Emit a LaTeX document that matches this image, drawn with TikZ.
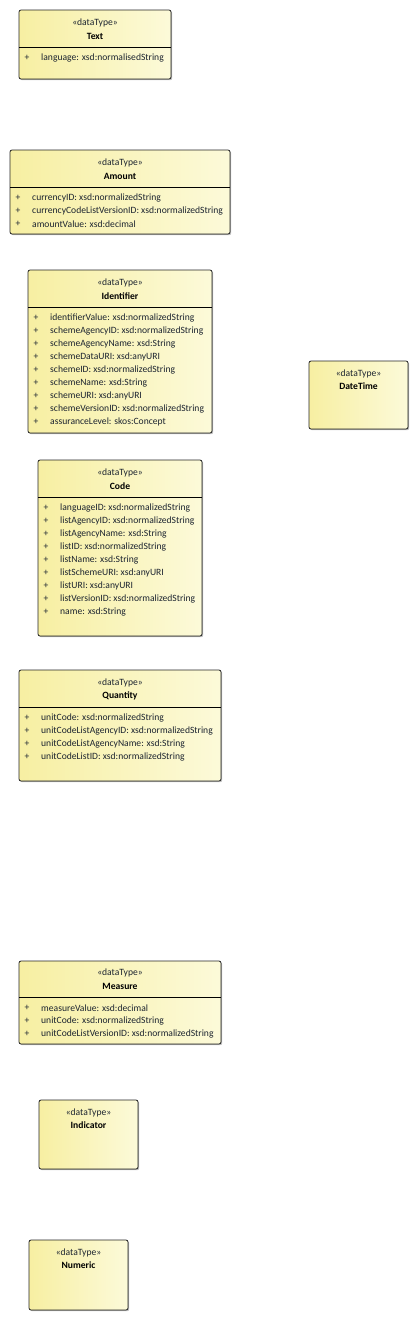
\documentclass[tikz,border=0pt]{standalone}
\usepackage{fontspec}
\setmainfont{Carlito}
\usetikzlibrary{shadows}
\definecolor{dtleft}{HTML}{F7EFA2}
\definecolor{dtright}{HTML}{FCFAD9}
\definecolor{dttext}{HTML}{1C2430}
\tikzset{
  dtbox/.style={draw=black!85, line width=0.8pt, rounded corners=2pt, left color=dtleft, right color=dtright,
    drop shadow={shadow xshift=1.2pt, shadow yshift=-1.2pt, opacity=0.25, fill=black}},
  stereo/.style={inner sep=0pt, text=dttext, font=\fontsize{9.6}{11}\selectfont},
  dtname/.style={inner sep=0pt, text=black, font=\fontsize{9.6}{11}\selectfont\bfseries},
  plus/.style={inner sep=0pt, text=dttext, font=\fontsize{9.6}{11}\selectfont},
  attr/.style={inner sep=0pt, anchor=west, text=dttext, font=\fontsize{9.6}{11}\selectfont}
}
\begin{document}
\begin{tikzpicture}[x=1pt,y=-1pt]
\useasboundingbox (0,0) rectangle (419,1320);
% Text
\filldraw[dtbox] (19,10) rectangle (171,79);
\draw[line width=0.8pt] (19,47) -- (171,47);
\node[stereo] (text-st) at (95,23) {«dataType»};
\node[dtname] (text-nm) at (95,36) {Text};
\node[plus] (text-p1) at (27,58) {+}; \node[attr] (text-a1) at (41,58) {language: xsd:normalisedString};
% Amount
\filldraw[dtbox] (10,150) rectangle (230,234);
\draw[line width=0.8pt] (10,187) -- (230,187);
\node[stereo] (amount-st) at (120,163) {«dataType»};
\node[dtname] (amount-nm) at (120,176) {Amount};
\node[plus] (amount-p1) at (18,198) {+}; \node[attr] (amount-a1) at (32,198) {currencyID: xsd:normalizedString};
\node[plus] (amount-p2) at (18,211) {+}; \node[attr] (amount-a2) at (32,211) {currencyCodeListVersionID: xsd:normalizedString};
\node[plus] (amount-p3) at (18,224) {+}; \node[attr] (amount-a3) at (32,224) {amountValue: xsd:decimal};
% Identifier
\filldraw[dtbox] (28,270) rectangle (212,433);
\draw[line width=0.8pt] (28,307) -- (212,307);
\node[stereo] (ident-st) at (120,283) {«dataType»};
\node[dtname] (ident-nm) at (120,296) {Identifier};
\node[plus] (ident-p1) at (36,318) {+}; \node[attr] (ident-a1) at (50,318) {identifierValue: xsd:normalizedString};
\node[plus] (ident-p2) at (36,331) {+}; \node[attr] (ident-a2) at (50,331) {schemeAgencyID: xsd:normalizedString};
\node[plus] (ident-p3) at (36,344) {+}; \node[attr] (ident-a3) at (50,344) {schemeAgencyName: xsd:String};
\node[plus] (ident-p4) at (36,357) {+}; \node[attr] (ident-a4) at (50,357) {schemeDataURI: xsd:anyURI};
\node[plus] (ident-p5) at (36,370) {+}; \node[attr] (ident-a5) at (50,370) {schemeID: xsd:normalizedString};
\node[plus] (ident-p6) at (36,383) {+}; \node[attr] (ident-a6) at (50,383) {schemeName: xsd:String};
\node[plus] (ident-p7) at (36,396) {+}; \node[attr] (ident-a7) at (50,396) {schemeURI: xsd:anyURI};
\node[plus] (ident-p8) at (36,409) {+}; \node[attr] (ident-a8) at (50,409) {schemeVersionID: xsd:normalizedString};
\node[plus] (ident-p9) at (36,422) {+}; \node[attr] (ident-a9) at (50,422) {assuranceLevel: skos:Concept};
% DateTime
\filldraw[dtbox] (309,361) rectangle (408,429);
\node[stereo] (date-st) at (358.5,374) {«dataType»};
\node[dtname] (date-nm) at (358.5,386) {DateTime};
% Code
\filldraw[dtbox] (38,460) rectangle (202,636);
\draw[line width=0.8pt] (38,497) -- (202,497);
\node[stereo] (code-st) at (120,473) {«dataType»};
\node[dtname] (code-nm) at (120,486) {Code};
\node[plus] (code-p1) at (46,508) {+}; \node[attr] (code-a1) at (60,508) {languageID: xsd:normalizedString};
\node[plus] (code-p2) at (46,521) {+}; \node[attr] (code-a2) at (60,521) {listAgencyID: xsd:normalizedString};
\node[plus] (code-p3) at (46,534) {+}; \node[attr] (code-a3) at (60,534) {listAgencyName: xsd:String};
\node[plus] (code-p4) at (46,547) {+}; \node[attr] (code-a4) at (60,547) {listID: xsd:normalizedString};
\node[plus] (code-p5) at (46,560) {+}; \node[attr] (code-a5) at (60,560) {listName: xsd:String};
\node[plus] (code-p6) at (46,573) {+}; \node[attr] (code-a6) at (60,573) {listSchemeURI: xsd:anyURI};
\node[plus] (code-p7) at (46,586) {+}; \node[attr] (code-a7) at (60,586) {listURI: xsd:anyURI};
\node[plus] (code-p8) at (46,599) {+}; \node[attr] (code-a8) at (60,599) {listVersionID: xsd:normalizedString};
\node[plus] (code-p9) at (46,612) {+}; \node[attr] (code-a9) at (60,612) {name: xsd:String};
% Quantity
\filldraw[dtbox] (19,670) rectangle (221,781);
\draw[line width=0.8pt] (19,707) -- (221,707);
\node[stereo] (qty-st) at (120,683) {«dataType»};
\node[dtname] (qty-nm) at (120,696) {Quantity};
\node[plus] (qty-p1) at (27,718) {+}; \node[attr] (qty-a1) at (41,718) {unitCode: xsd:normalizedString};
\node[plus] (qty-p2) at (27,731) {+}; \node[attr] (qty-a2) at (41,731) {unitCodeListAgencyID: xsd:normalizedString};
\node[plus] (qty-p3) at (27,744) {+}; \node[attr] (qty-a3) at (41,744) {unitCodeListAgencyName: xsd:String};
\node[plus] (qty-p4) at (27,757) {+}; \node[attr] (qty-a4) at (41,757) {unitCodeListID: xsd:normalizedString};
% Measure
\filldraw[dtbox] (19,961) rectangle (221,1044);
\draw[line width=0.8pt] (19,997) -- (221,997);
\node[stereo] (meas-st) at (120,973) {«dataType»};
\node[dtname] (meas-nm) at (120,986) {Measure};
\node[plus] (meas-p1) at (27,1008) {+}; \node[attr] (meas-a1) at (41,1008) {measureValue: xsd:decimal};
\node[plus] (meas-p2) at (27,1021) {+}; \node[attr] (meas-a2) at (41,1021) {unitCode: xsd:normalizedString};
\node[plus] (meas-p3) at (27,1034) {+}; \node[attr] (meas-a3) at (41,1034) {unitCodeListVersionID: xsd:normalizedString};
% Indicator
\filldraw[dtbox] (39,1100) rectangle (138,1169);
\node[stereo] (ind-st) at (88.5,1113) {«dataType»};
\node[dtname] (ind-nm) at (88.5,1125) {Indicator};
% Numeric
\filldraw[dtbox] (29,1240) rectangle (128,1310);
\node[stereo] (num-st) at (78.5,1253) {«dataType»};
\node[dtname] (num-nm) at (78.5,1265) {Numeric};
\end{tikzpicture}
\end{document}
